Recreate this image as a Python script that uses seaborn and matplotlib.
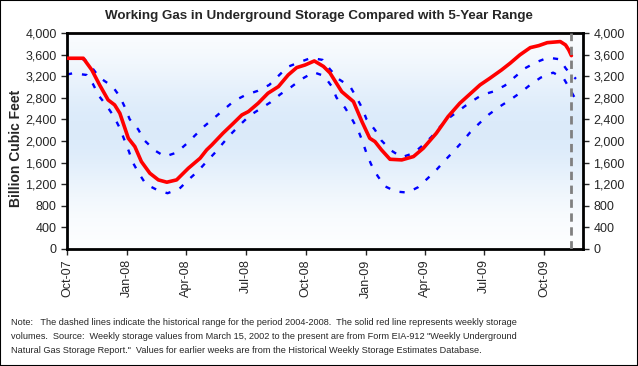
import numpy as np
import pandas as pd
import seaborn as sns
import matplotlib.pyplot as plt
import matplotlib.dates as mdates
from matplotlib.ticker import FuncFormatter, MultipleLocator
from matplotlib.patches import Rectangle

# weekly storage (red line)
stor_dates = ['2007-10-01', '2007-10-26', '2007-11-08', '2007-11-20', '2007-12-03', '2007-12-13',
              '2007-12-21', '2008-01-03', '2008-01-13', '2008-01-23', '2008-02-05', '2008-02-18',
              '2008-03-02', '2008-03-17', '2008-04-04', '2008-04-22', '2008-05-02', '2008-05-10',
              '2008-05-27', '2008-06-12', '2008-06-25', '2008-07-05', '2008-07-20', '2008-08-04',
              '2008-08-20', '2008-09-04', '2008-09-17', '2008-09-30', '2008-10-14', '2008-10-28',
              '2008-11-07', '2008-11-25', '2008-12-13', '2008-12-26', '2009-01-07', '2009-01-15',
              '2009-01-25', '2009-02-07', '2009-02-25', '2009-03-15', '2009-03-30', '2009-04-19',
              '2009-05-07', '2009-05-25', '2009-06-25', '2009-07-10', '2009-07-28', '2009-08-10',
              '2009-08-25', '2009-09-10', '2009-09-23', '2009-10-06', '2009-10-26', '2009-11-03',
              '2009-11-08', '2009-11-12']
stor_vals = [3531, 3531, 3315, 3037, 2759, 2667,
             2512, 2049, 1895, 1617, 1401, 1278,
             1235, 1278, 1494, 1679, 1833, 1926,
             2142, 2327, 2481, 2543, 2698, 2883,
             3006, 3222, 3358, 3407, 3481, 3380,
             3260, 2913, 2728, 2358, 2049, 1987,
             1833, 1660, 1648, 1710, 1864, 2142,
             2450, 2698, 3037, 3160, 3315, 3438,
             3593, 3728, 3765, 3820, 3840, 3778,
             3685, 3580]

# 5-year maximum (upper dashed line)
max_dates = ['2007-10-01', '2007-10-28', '2007-11-09', '2007-11-20', '2007-12-10', '2007-12-21',
             '2007-12-29', '2008-01-05', '2008-01-18', '2008-01-28', '2008-02-13', '2008-02-28',
             '2008-03-17', '2008-04-01', '2008-04-15', '2008-04-29', '2008-05-13', '2008-05-29',
             '2008-06-13', '2008-07-01', '2008-07-19', '2008-08-06', '2008-08-20', '2008-09-03',
             '2008-09-21', '2008-10-09', '2008-10-27', '2008-11-07', '2008-11-20', '2008-12-08',
             '2008-12-17', '2008-12-26', '2009-01-02', '2009-01-15', '2009-01-25', '2009-02-09',
             '2009-02-25', '2009-03-15', '2009-03-30', '2009-04-12', '2009-04-25', '2009-05-10',
             '2009-05-25', '2009-06-10', '2009-06-28', '2009-07-15', '2009-08-02', '2009-08-18',
             '2009-09-02', '2009-09-19', '2009-10-07', '2009-10-25', '2009-11-04', '2009-11-19']
max_vals = [3531, 3512, 3346, 3173, 3006, 2821,
            2617, 2402, 2216, 2006, 1821, 1710,
            1784, 1944, 2111, 2278, 2420, 2586,
            2740, 2852, 2926, 3037, 3204, 3370,
            3457, 3537, 3500, 3327, 3148, 3006,
            2821, 2617, 2402, 2204, 2006, 1821,
            1698, 1772, 1926, 2080, 2265, 2440,
            2574, 2716, 2852, 2913, 3025, 3191,
            3346, 3457, 3543, 3512, 3333, 3148]

# 5-year minimum (lower dashed line)
min_dates = ['2007-10-01', '2007-10-10', '2007-10-31', '2007-11-10', '2007-11-19', '2007-12-01',
             '2007-12-12', '2007-12-21', '2007-12-28', '2008-01-04', '2008-01-10', '2008-01-19',
             '2008-01-30', '2008-02-16', '2008-03-03', '2008-03-21', '2008-04-05', '2008-04-19',
             '2008-05-02', '2008-05-15', '2008-05-27', '2008-06-08', '2008-06-22', '2008-07-07',
             '2008-07-23', '2008-08-08', '2008-08-23', '2008-09-08', '2008-09-25', '2008-10-13',
             '2008-10-29', '2008-11-10', '2008-11-17', '2008-11-30', '2008-12-10', '2008-12-20',
             '2008-12-27', '2009-01-02', '2009-01-09', '2009-01-19', '2009-01-30', '2009-02-16',
             '2009-03-06', '2009-03-22', '2009-04-06', '2009-04-20', '2009-05-03', '2009-05-16',
             '2009-05-29', '2009-06-10', '2009-06-24', '2009-07-09', '2009-07-25', '2009-08-10',
             '2009-08-26', '2009-09-11', '2009-09-26', '2009-10-15', '2009-10-31', '2009-11-09',
             '2009-11-18']
min_vals = [3230, 3253, 3222, 3049, 2833, 2648,
            2450, 2235, 2018, 1802, 1598, 1401,
            1198, 1093, 1031, 1111, 1290, 1444,
            1617, 1784, 1957, 2124, 2296, 2469,
            2593, 2716, 2864, 2994, 3148, 3272,
            3204, 3006, 2802, 2617, 2420, 2204,
            1987, 1772, 1568, 1352, 1161, 1062,
            1043, 1142, 1309, 1475, 1648, 1815,
            1987, 2161, 2327, 2494, 2635, 2759,
            2895, 3049, 3173, 3265, 3161, 2975,
            2778]

current_week = '2009-11-12'

title = 'Working Gas in Underground Storage Compared with 5-Year Range'
ylabel = 'Billion Cubic Feet'
note = ('Note:   The dashed lines indicate the historical range for the period 2004-2008.  '
        'The solid red line represents weekly storage\n'
        'volumes.  Source:  Weekly storage values from March 15, 2002 to the present are from '
        'Form EIA-912 "Weekly Underground\n'
        'Natural Gas Storage Report."  Values for earlier weeks are from the Historical Weekly '
        'Storage Estimates Database.')

stor = pd.DataFrame({'date': pd.to_datetime(stor_dates), 'bcf': stor_vals})
hi = pd.DataFrame({'date': pd.to_datetime(max_dates), 'bcf': max_vals})
lo = pd.DataFrame({'date': pd.to_datetime(min_dates), 'bcf': min_vals})

sns.set_style('white')
plt.rcParams['font.family'] = ['Liberation Sans', 'DejaVu Sans']

fig = plt.figure(figsize=(6.38, 3.66), dpi=100)
ax = fig.add_axes([0.105, 0.32, 0.809, 0.59])

# light blue gradient behind the plot
g = np.linspace(0, 1, 256)
w = np.exp(-((g - 0.55) / 0.32) ** 2)
top = np.array([1.0, 1.0, 1.0])
blue = np.array([0.86, 0.92, 0.98])
img = top[None, :] * (1 - w[:, None]) + blue[None, :] * w[:, None]
ax.imshow(img[:, None, :], extent=[0, 1, 0, 1], transform=ax.transAxes,
          aspect='auto', origin='lower', zorder=0)

dash = (0, (2.2, 4.2))
sns.lineplot(data=hi, x='date', y='bcf', ax=ax, color='#0000ff', lw=1.7, linestyle=dash, zorder=2)
sns.lineplot(data=lo, x='date', y='bcf', ax=ax, color='#0000ff', lw=1.7, linestyle=dash, zorder=2)
sns.lineplot(data=stor, x='date', y='bcf', ax=ax, color='#ff0000', lw=2.6, zorder=3)
ax.axvline(pd.Timestamp(current_week), color='#808080', lw=2, linestyle=(0, (3, 2)), zorder=4)

ax.set_xlim(pd.Timestamp('2007-10-01'), pd.Timestamp('2009-11-30'))
ax.set_ylim(0, 4000)
ax.yaxis.set_major_locator(MultipleLocator(400))
ax.yaxis.set_major_formatter(FuncFormatter(lambda v, p: f'{int(v):,}'))
ax.xaxis.set_major_locator(mdates.MonthLocator(bymonth=[1, 4, 7, 10]))
ax.xaxis.set_major_formatter(mdates.DateFormatter('%b-%y'))
ax.tick_params(axis='x', rotation=90, labelsize=9, length=4, width=1, direction='out', bottom=True)
ax.tick_params(axis='y', labelsize=9, length=4, width=1, direction='out',
               left=True, right=True, labelright=True)
for s in ax.spines.values():
    s.set_color('black')
    s.set_linewidth(2)

ax.set_xlabel('')
ax.set_ylabel('')
fig.text(16 / 638, 1 - 148 / 366, ylabel, rotation=90, ha='center', va='center',
         fontsize=10, fontweight='bold')
fig.text(0.5, 0.955, title, ha='center', va='center', fontsize=9.6, fontweight='bold')
fig.text(0.017, 0.130, note, ha='left', va='top', fontsize=6.6, linespacing=1.7)

fig.add_artist(Rectangle((0, 0), 1, 1, transform=fig.transFigure, fill=False,
                         edgecolor='black', lw=1.5))

fig.savefig('out.png', dpi=100)
